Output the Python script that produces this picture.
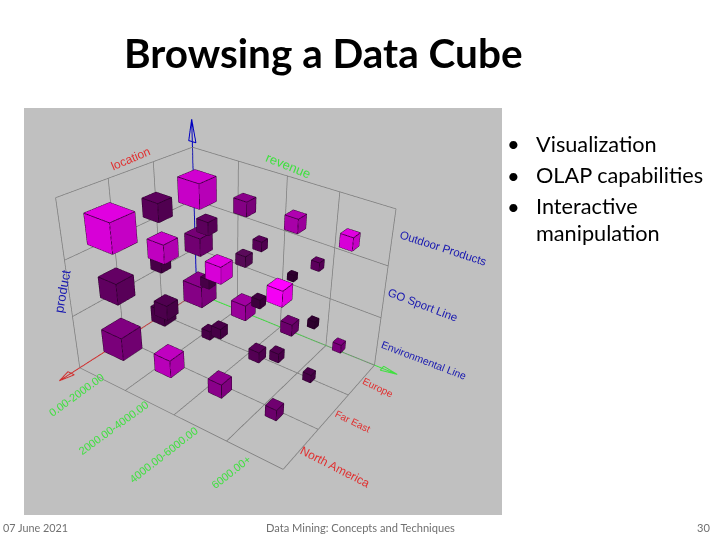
import numpy as np, plotly.graph_objects as go

location_idx=[0,0,0,0,0,0,0,0,0,0,0, 1,1,1,1,1,1,1,1,1,1,1,1, 2,2,2,2,2,2,2,2,2,2,2,2]
revenue_idx =[0,0,0,1,1,1,2,2,2,3,3, 0,0,0,1,1,1,2,2,2,3,3,3, 0,0,0,1,1,1,2,2,2,3,3,3]
product_idx =[0,1,2,0,1,2,0,1,2,0,2, 0,1,2,0,1,2,0,1,2,0,1,2, 0,1,2,0,1,2,0,1,2,0,1,2]
cube_side=[.425,.345,.46,.31,.207,.264,.23,.126,.253,.16,.23,
           .295,.232,.326,.168,.168,.221,.2,.158,.158,.147,.126,.137,
           .427,.369,.505,.32,.243,.30,.252,.165,.262,.194,.146,.243]
cube_col=["#8b008b","#760076","#d000d0","#a000a0","#5a0a5a","#8a008a","#700070","#300030","#b000b0","#800080","#e000e0",
"#4a004a","#4a004a","#5c005c","#4a004a","#4a004a","#600060","#580058","#400040","#5a005a","#4a004a","#300030","#600060",
"#800080","#640064","#e000e0","#c000c0","#500050","#c800c8","#900090","#4a004a","#e000e0","#700070","#500050","#ff00ff"]

rng=np.array([[-0.1,3.7],[-0.1,4.7],[-0.1,3.8]])
p=[1.002,0.754,0.765,0.915,0.714,0.711,-0.812,-0.542,0.141,0.146,0.148]

def cube_geom():
    X=[];Y=[];Z=[];I=[];J=[];K=[];FC=[]
    ex=[];ey=[];ez=[]
    for n,(l,r,q,w,c) in enumerate(zip(location_idx,revenue_idx,product_idx,cube_side,cube_col)):
        h=w/2; cx,cy,cz=l+.5,r+.5,q+.5
        v=[(cx+a*h,cy+b*h,cz+d*h) for a in(-1,1) for b in(-1,1) for d in(-1,1)]
        for a in v: X.append(a[0]);Y.append(a[1]);Z.append(a[2])
        o=8*n
        rgb=np.array([int(c[i:i+2],16) for i in(1,3,5)])
        def shade(t): return "rgb(%d,%d,%d)"%tuple(np.clip(rgb*t,0,255))
        faces=[((1,3,7),1.0),((1,7,5),1.0),((4,5,7),.96),((4,7,6),.96),((2,3,7),.88),((2,7,6),.88),
               ((0,1,3),.8),((0,3,2),.8),((0,4,5),.8),((0,5,1),.8),((0,2,6),.8),((0,6,4),.8)]
        for (a,b,d),t in faces:
            I.append(o+a);J.append(o+b);K.append(o+d);FC.append(shade(t))
        for a,b in [(0,1),(2,3),(4,5),(6,7),(0,2),(1,3),(4,6),(5,7),(0,4),(1,5),(2,6),(3,7)]:
            for s in (a,b):
                ex.append(v[s][0]);ey.append(v[s][1]);ez.append(v[s][2])
            ex.append(None);ey.append(None);ez.append(None)
    return X,Y,Z,I,J,K,FC,ex,ey,ez
X,Y,Z,I,J,K,FC,ex,ey,ez=cube_geom()

gx=[];gy=[];gz=[]
def seg(a,b):
    gx.extend([a[0],b[0],None]);gy.extend([a[1],b[1],None]);gz.extend([a[2],b[2],None])
for l in range(4): seg((l,0,0),(l,4,0)); seg((l,0,0),(l,0,3))
for r in range(5): seg((0,r,0),(3,r,0)); seg((0,r,0),(0,r,3))
for q in range(4):
    seg((0,0,q),(3,0,q)); seg((0,0,q),(0,4,q))

def line3(pts,col,w=2):
    a=np.array(pts,dtype=object)
    return go.Scatter3d(x=a[:,0],y=a[:,1],z=a[:,2],mode="lines",line=dict(color=col,width=w),hoverinfo="skip",showlegend=False)
N=[None]*3
fig=go.Figure()
fig.add_trace(go.Scatter3d(x=gx,y=gy,z=gz,mode="lines",line=dict(color="#7c7c7c",width=1.5),hoverinfo="skip",showlegend=False))
fig.add_trace(line3([(0,0,0),(3.42,0,0),N,(3.42,0,0),(3.18,.07,0),(3.18,-.07,0),(3.42,0,0)],"#d03030"))
fig.add_trace(line3([(0,0,0),(0,4.45,0),N,(0,4.45,0),(.07,4.15,0),(-.07,4.15,0),(0,4.45,0)],"#40e040"))
fig.add_trace(line3([(0,0,0),(0,0,3.5),N,(0,0,3.5),(0,.08,3.1),(0,-.08,3.1),(0,0,3.5)],"#0000c0"))
fig.add_trace(go.Mesh3d(x=X,y=Y,z=Z,i=I,j=J,k=K,facecolor=FC,flatshading=True,hoverinfo="skip",
    lighting=dict(ambient=1,diffuse=0,specular=0,fresnel=0,roughness=1)))
fig.add_trace(go.Scatter3d(x=ex,y=ey,z=ez,mode="lines",line=dict(color="#240024",width=1.5),hoverinfo="skip",showlegend=False))

ax=dict(visible=False,showspikes=False)
s=np.array(p[8:11]); a=(rng[:,1]-rng[:,0])*s
fig.update_layout(width=720,height=540,margin=dict(l=0,r=0,t=0,b=0),paper_bgcolor="white",showlegend=False,
  scene=dict(domain=dict(x=[0,1],y=[0,1]),bgcolor="rgba(0,0,0,0)",
    xaxis=dict(ax,range=list(rng[0])),yaxis=dict(ax,range=list(rng[1])),zaxis=dict(ax,range=list(rng[2])),
    aspectmode="manual",aspectratio=dict(x=a[0],y=a[1],z=a[2]),
    camera=dict(eye=dict(x=p[0],y=p[1],z=p[2]),center=dict(x=p[3],y=p[4],z=p[5]),up=dict(x=p[6],y=p[7],z=1))))
fig.add_shape(type="rect",xref="paper",yref="paper",x0=24/720,x1=502/720,y0=1-515/540,y1=1-108/540,fillcolor="#c0c0c0",line_width=0,layer="below")

def T(txt,x,y,size,color="black",angle=0,anchor="center",family="Liberation Sans",bold=False):
    fig.add_annotation(text=f"<b>{txt}</b>" if bold else txt,xref="paper",yref="paper",x=x/720,y=1-y/540,showarrow=False,
       font=dict(size=size,color=color,family=family),textangle=angle,xanchor=anchor,yanchor="middle")
T("Browsing a Data Cube",122,53,40.5,anchor="left",family="Lato",bold=True)
for b,t,y in [("•","Visualization",144),("•","OLAP capabilities",175),("•","Interactive",206),("","manipulation",233)]:
    if b: T(b,505,y,22,anchor="left",family="Lato")
    T(t,534,y,21.7,anchor="left",family="Lato")
T("07 June 2021",1,527,10.8,"#707070",anchor="left",family="Lato")
T("Data Mining: Concepts and Techniques",360,527,11.1,"#707070",family="Lato")
T("30",712,527,11.1,"#707070",anchor="right",family="Lato")
RED,GRN,BLU="#e03030","#40e040","#1818b0"
T("location",130,159,12,RED,-23); T("revenue",288,165,13,GRN,22); T("product",62,291,13,BLU,-80)
T("Outdoor Products",443,248,11.5,BLU,18); T("GO Sport Line",423,305,11.5,BLU,21); T("Environmental Line",424,360,10.5,BLU,21)
T("0.00-2000.00",76,395,11,GRN,-36); T("2000.00-4000.00",113,428,11,GRN,-36); T("4000.00-6000.00",163,455,11,GRN,-38); T("6000.00+",231,472,11,GRN,-38)
T("Europe",378,387,10,RED,26); T("Far East",353,421,10,RED,26); T("North America",335,467,12,RED,27)
fig.write_html("out.html",config=dict(displayModeBar=False),post_script="document.body.style.margin='0';document.documentElement.style.overflow='hidden';")
